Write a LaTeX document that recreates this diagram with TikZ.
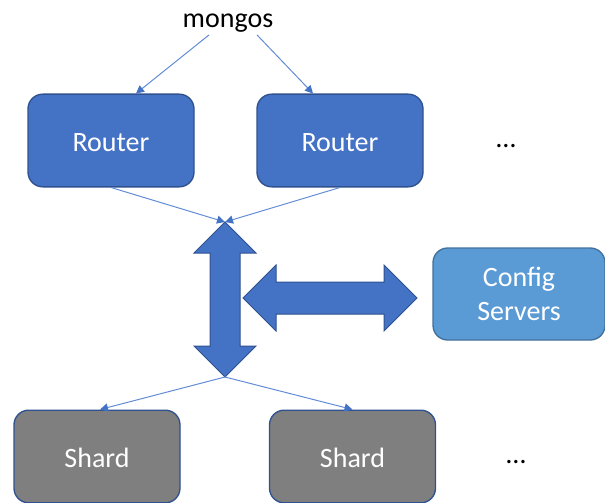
\documentclass[tikz,border=0pt]{standalone}
\usepackage{fontspec}
\setmainfont{Carlito}
\usetikzlibrary{arrows.meta,positioning,calc}
\definecolor{routerblue}{RGB}{68,114,196}
\definecolor{edgeblue}{RGB}{47,82,143}
\definecolor{linkblue}{RGB}{98,140,214}
\definecolor{configblue}{RGB}{91,155,213}
\definecolor{configedge}{RGB}{65,113,156}
\definecolor{shardgray}{RGB}{127,127,127}

\begin{document}
\begin{tikzpicture}[x=0.75pt,y=-0.75pt,
    box/.style={draw=edgeblue, line width=1pt, rounded corners=11pt,
        minimum width=124.5pt, minimum height=69.5pt, inner sep=0pt,
        text=white, align=center, font=\fontsize{21}{26}\selectfont},
    onebox/.style={box, text height=16pt, text depth=0pt},
    link/.style={draw=linkblue, line width=0.75pt,
        -{Triangle[length=6pt,width=6pt,color=routerblue]}},
    fat/.style={fill=routerblue, draw=edgeblue, line width=0.75pt},
    label/.style={font=\fontsize{21}{26}\selectfont}]
    \useasboundingbox (0,0) rectangle (605,502);

    % routers and the mongos label
    \node[label] (mongos) at (228,23) {mongos};
    \node[onebox, fill=routerblue] (r1) at (111,140.5) {Router};
    \node[onebox, fill=routerblue] (r2) at (340,140.5) {Router};
    \node[label] (rdots) at (506,146) {\dots};

    % config servers
    \node[box, fill=configblue, draw=configedge, minimum width=129pt, minimum height=69pt]
        (cfg) at (519,294) {Config\\Servers};

    % shards
    \node[onebox, fill=shardgray] (s1) at (97,456.5) {Shard};
    \node[onebox, fill=shardgray] (s2) at (352.5,456.5) {Shard};
    \node[label] (sdots) at (516,462) {\dots};

    % vertical double arrow between routers and shards
    \coordinate (hubtop) at (225,222);
    \coordinate (hubbot) at (225,377);
    \draw[fat] (hubtop) -- (256,253) -- (240,253) -- (240,346) -- (256,346)
        -- (hubbot) -- (194,346) -- (210,346) -- (210,253) -- (194,253) -- cycle;

    % horizontal double arrow to the config servers
    \draw[fat] (243,298) -- (276,265) -- (276,282) -- (384,282) -- (384,265)
        -- (417,298) -- (384,331) -- (384,314) -- (276,314) -- (276,331) -- cycle;

    % thin links
    \draw[link] ($(mongos.south)+(-19,-2)$) -- ($(r1.north)+(25,0)$);
    \draw[link] ($(mongos.south)+(29,-2)$) -- ($(r2.north)+(-27,0)$);
    \draw[link] (r1.south) -- (hubtop);
    \draw[link] (r2.south) -- (hubtop);
    \draw[link] (hubbot) -- ($(s1.north)+(3,0)$);
    \draw[link] (hubbot) -- (s2.north);
\end{tikzpicture}
\end{document}
